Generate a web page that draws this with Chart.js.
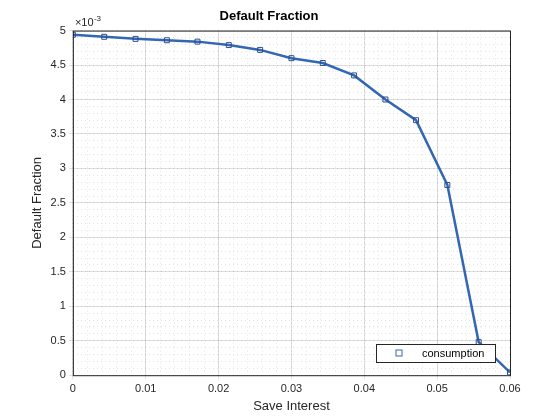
<!DOCTYPE html>
<html>
<head>
<meta charset="utf-8">
<script src="https://cdn.jsdelivr.net/npm/chart.js@4"></script>
<style>
  body { margin: 0; background: #fff; }
  #wrap { width: 560px; height: 420px; }
</style>
</head>
<body>
<div id="wrap"><canvas id="defaultChart"></canvas></div>
<script>
// DATA
const saveInterest = [0, 0.0043, 0.0086, 0.0129, 0.0171, 0.0214, 0.0257, 0.03, 0.0343, 0.0386, 0.0429, 0.0471, 0.0514, 0.0557, 0.06];
const defaultFraction = [4.94, 4.91, 4.88, 4.86, 4.84, 4.79, 4.72, 4.60, 4.53, 4.35, 4.00, 3.70, 2.76, 0.48, 0.04]; // x 10^-3
const xTicks = [0, 0.01, 0.02, 0.03, 0.04, 0.05, 0.06];
const yTicks = [0, 0.5, 1, 1.5, 2, 2.5, 3, 3.5, 4, 4.5, 5];

const lineColor = "#3366b3";
const font = "Helvetica, Arial, 'Liberation Sans', sans-serif";

// box, exponent label, legend
const extras = {
  id: "extras",
  afterDraw(chart) {
    const { ctx, chartArea: a } = chart;
    ctx.save();
    ctx.strokeStyle = "#262626";
    ctx.lineWidth = 1;
    ctx.strokeRect(a.left + 0.5, a.top + 0.5, a.right - a.left, a.bottom - a.top);

    ctx.fillStyle = "#262626";
    ctx.font = "11px " + font;
    ctx.textBaseline = "bottom";
    ctx.fillText("\u00d710", a.left + 2, a.top - 2);
    ctx.font = "8px " + font;
    ctx.fillText("-3", a.left + 21, a.top - 8);

    // legend
    const lx = 376, ly = 344, lw = 119, lh = 18;
    ctx.fillStyle = "#fff";
    ctx.fillRect(lx, ly, lw, lh);
    ctx.strokeStyle = "#262626";
    ctx.strokeRect(lx + 0.5, ly + 0.5, lw, lh);
    ctx.strokeStyle = lineColor;
    ctx.strokeRect(396, ly + 6, 6, 6);
    ctx.fillStyle = "#000";
    ctx.font = "11px " + font;
    ctx.textBaseline = "middle";
    ctx.fillText("consumption", 422, ly + lh / 2 + 1);
    ctx.restore();
  },
};

const chartEl = document.querySelector("#defaultChart");
if (chartEl) {
  new Chart(chartEl, {
    type: "scatter",
    data: {
      datasets: [
        {
          label: "consumption",
          data: saveInterest.map((x, i) => ({ x: x, y: defaultFraction[i] })),
          showLine: true,
          borderColor: lineColor,
          borderWidth: 2.5,
          pointStyle: "rect",
          pointRadius: 3.5,
          pointBorderWidth: 1,
          pointBorderColor: "#2a4f8a",
          pointBackgroundColor: "rgba(0,0,0,0)",
          tension: 0,
        },
      ],
    },
    options: {
      responsive: true,
      maintainAspectRatio: false,
      animation: false,
      layout: { padding: { left: 28, right: 50, top: 5, bottom: 6 } },
      plugins: {
        legend: { display: false },
        tooltip: { enabled: false },
        title: {
          display: true,
          text: "Default Fraction",
          color: "#000",
          font: { family: font, size: 13, weight: "bold" },
          padding: { top: 4, bottom: 6 },
        },
      },
      scales: {
        x: {
          type: "linear",
          min: 0,
          max: 0.06,
          afterBuildTicks: (axis) => { axis.ticks = xTicks.map((v) => ({ value: v })); },
          ticks: { color: "#262626", font: { family: font, size: 11 }, callback: (v) => String(v) },
          grid: { color: "rgba(0,0,0,0.12)", drawTicks: true, tickLength: 4 },
          border: { display: false },
          title: { display: true, text: "Save Interest", color: "#262626", font: { family: font, size: 13 }, padding: 0 },
        },
        xMinor: {
          type: "linear",
          position: "bottom",
          display: true,
          min: 0,
          max: 0.06,
          ticks: { display: false, stepSize: 0.002 },
          grid: { color: "rgba(0,0,0,0.22)", lineWidth: 0.5, drawTicks: false },
          border: { display: false, dash: [1, 3] },
        },
        y: {
          min: 0,
          max: 5,
          afterBuildTicks: (axis) => { axis.ticks = yTicks.map((v) => ({ value: v })); },
          ticks: { color: "#262626", font: { family: font, size: 11 }, callback: (v) => String(v) },
          grid: { color: "rgba(0,0,0,0.12)", tickLength: 4 },
          border: { display: false },
          title: { display: true, text: "Default Fraction", color: "#262626", font: { family: font, size: 13 }, padding: 2 },
        },
        yMinor: {
          position: "left",
          display: true,
          min: 0,
          max: 5,
          ticks: { display: false, stepSize: 0.1 },
          grid: { color: "rgba(0,0,0,0.22)", lineWidth: 0.5, drawTicks: false },
          border: { display: false, dash: [1, 3] },
        },
      },
    },
    plugins: [extras],
  });
}
</script>
</body>
</html>
